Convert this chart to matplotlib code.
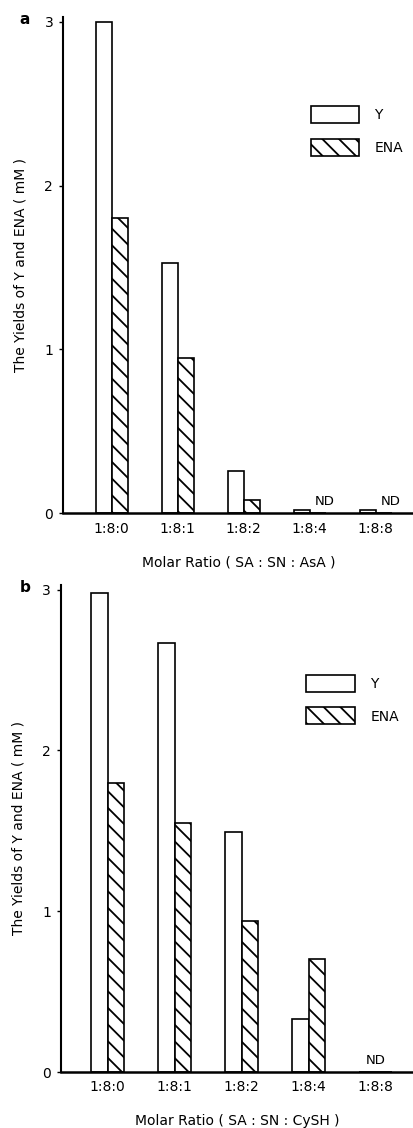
import matplotlib
matplotlib.use("Agg")
import matplotlib.pyplot as plt
import numpy as np

plt.rcParams['font.family'] = ['DejaVu Sans']
plt.rcParams['hatch.linewidth'] = 1.3

ratios = ["1:8:0", "1:8:1", "1:8:2", "1:8:4", "1:8:8"]

# panel a: AsA
y_a = [3.0, 1.53, 0.26, 0.02, 0.02]
ena_a = [1.80, 0.95, 0.08, np.nan, np.nan]   # nan = not detected
nd_a = [3, 4]

# panel b: CySH
y_b = [2.98, 2.67, 1.49, 0.33, np.nan]
ena_b = [1.80, 1.55, 0.94, 0.70, np.nan]
nd_b = [4]

W = 0.245


def draw_panel(ax, yv, ev, nd, nd_dx, xlabel, xlim, leg_anchor):
    x = np.arange(len(ratios))
    ax.bar(x - W, np.nan_to_num(yv), W, align='edge', color='white',
           edgecolor='black', lw=1.2, label='Y')
    ax.bar(x, np.nan_to_num(ev), W, align='edge', color='white',
           edgecolor='black', lw=1.2, hatch='\\\\', label='ENA')
    for i in nd:
        ax.text(i + nd_dx, 0.03, "ND", ha='center', va='bottom', fontsize=9.5)

    ax.set_xlim(*xlim)
    ax.set_ylim(0, 3.03)
    ax.set_xticks(x)
    ax.set_xticklabels(ratios, fontsize=10)
    ax.set_yticks([0, 1, 2, 3])
    ax.set_yticklabels(["0", "1", "2", "3"], fontsize=10)
    ax.tick_params(axis='x', length=0, pad=6)
    ax.tick_params(axis='y', length=3, width=1, pad=4)
    ax.spines['top'].set_visible(False)
    ax.spines['right'].set_visible(False)
    ax.spines['left'].set_linewidth(1.5)
    ax.spines['bottom'].set_linewidth(1.8)
    ax.set_ylabel("The Yields of Y and ENA ( mM )", fontsize=10, labelpad=12)
    ax.set_xlabel(xlabel, fontsize=10, labelpad=14)
    ax.legend(loc='upper left', bbox_to_anchor=leg_anchor, frameon=False,
              fontsize=10, handlelength=3.5, handleheight=1.5,
              handletextpad=1.1, labelspacing=1.1)


fig = plt.figure(figsize=(4.14, 11.28), dpi=100)
ax1 = fig.add_axes([0.152, 0.545, 0.848, 0.44])
ax2 = fig.add_axes([0.147, 0.0496, 0.853, 0.432])

draw_panel(ax1, y_a, ena_a, nd_a, 0.22, "Molar Ratio ( SA : SN : AsA )",
           (-0.74, 4.58), (0.67, 0.845))
draw_panel(ax2, y_b, ena_b, nd_b, 0.0, "Molar Ratio ( SA : SN : CySH )",
           (-0.70, 4.57), (0.66, 0.84))

fig.text(25 / 414, 1 - 20 / 1128, "a", fontsize=11, fontweight='bold',
         ha='center', va='center')
fig.text(25 / 414, 1 - 588 / 1128, "b", fontsize=11, fontweight='bold',
         ha='center', va='center')

fig.savefig("out.png", dpi=100)
